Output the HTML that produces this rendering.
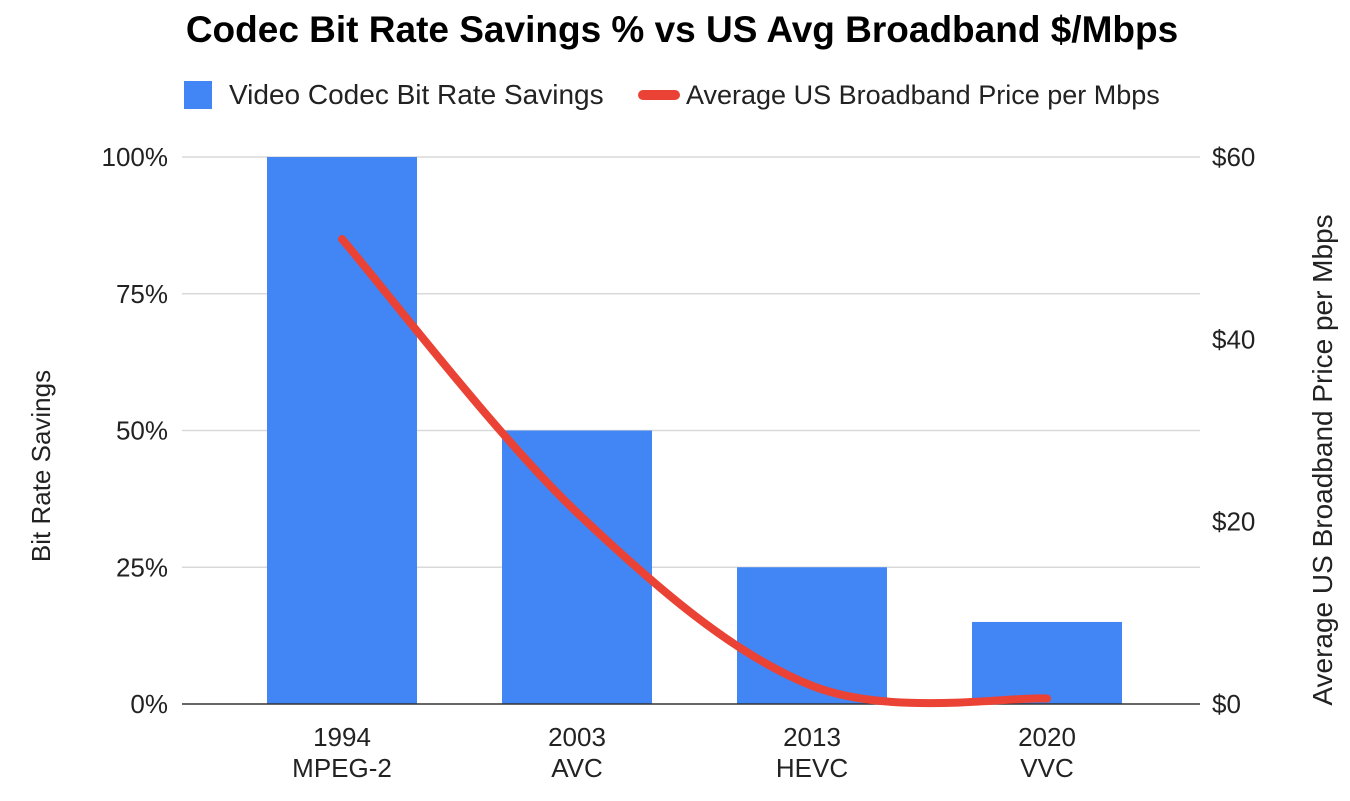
<!DOCTYPE html>
<html><head><meta charset="utf-8"><style>
body{margin:0;background:#fff;font-family:"Liberation Sans",Arial,sans-serif}
</style></head><body>
<svg id="chart" width="1350" height="796" font-family="Liberation Sans, Arial, sans-serif">
<text x="682" y="42" text-anchor="middle" font-size="37" font-weight="bold" fill="#000">Codec Bit Rate Savings % vs US Avg Broadband $/Mbps</text>
<g>
<rect x="184" y="81" width="28" height="28" fill="#4285f4"/>
<text x="229" y="104" font-size="28" fill="#222">Video Codec Bit Rate Savings</text>
<rect x="638" y="90" width="42" height="10" rx="5" fill="#ea4335"/>
<text x="686" y="104" font-size="27" fill="#222">Average US Broadband Price per Mbps</text>
</g>
<g id="grid"></g><g id="bars"></g><g id="axes"></g><g id="line"></g>
<text transform="translate(50,466) rotate(-90)" text-anchor="middle" font-size="26" fill="#222">Bit Rate Savings</text>
<text transform="translate(1332,460) rotate(-90)" text-anchor="middle" font-size="28" fill="#222">Average US Broadband Price per Mbps</text>
</svg>
<script>
const categories=["1994","2003","2013","2020"];
const codecs=["MPEG-2","AVC","HEVC","VVC"];
const savings=[100,50,25,15];
const prices=[51,21,2,0.6];
const leftTicks=[0,25,50,75,100];
const rightTicks=[0,20,40,60];
const NS="http://www.w3.org/2000/svg";
const x0=182,x1=1200,yTop=157,yBot=704;
const firstCenter=342,band=235;
const xc=i=>firstCenter+band*i;
const yL=v=>yBot-(v/100)*(yBot-yTop);
const yR=v=>yBot-(v/60)*(yBot-yTop);
function mk(t,a,p){const e=document.createElementNS(NS,t);for(const k in a)e.setAttribute(k,a[k]);p.appendChild(e);return e;}
const grid=document.getElementById('grid'),bars=document.getElementById('bars'),axes=document.getElementById('axes'),line=document.getElementById('line');
leftTicks.forEach(v=>{
 if(v>0){const g=mk('line',{x1:x0,x2:x1,y1:yL(v),y2:yL(v),stroke:'#d9d9d9','stroke-width':1.5},grid);
 
 }
 const t=mk('text',{x:168,y:yL(v)+9,'text-anchor':'end','font-size':26,fill:'#222'},axes);t.textContent=v+'%';
 
 
});
rightTicks.forEach(v=>{
 const t=mk('text',{x:1212,y:yR(v)+9,'font-size':26,fill:'#222'},axes);t.textContent='$'+v;
 
 
});
savings.forEach((v,i)=>{
 const r=mk('rect',{x:xc(i)-75,y:yL(v),width:150,height:yBot-yL(v),fill:'#4285f4'},bars);
 
 
 const t=mk('text',{x:xc(i),y:746,'text-anchor':'middle','font-size':26,fill:'#222'},axes);t.textContent=categories[i];
 
 
 const t2=mk('text',{x:xc(i),y:777,'text-anchor':'middle','font-size':26,fill:'#222'},axes);t2.textContent=codecs[i];
 
 
});
const base=mk('line',{x1:x0,x2:x1,y1:yBot,y2:yBot,stroke:'#333','stroke-width':1.5},axes);


const pts=prices.map((v,i)=>[xc(i),yR(v)]);
let d='M'+pts[0][0]+','+pts[0][1];
for(let i=0;i<pts.length-1;i++){
 const p0=pts[Math.max(0,i-1)],p1=pts[i],p2=pts[i+1],p3=pts[Math.min(pts.length-1,i+2)];
 const c1=[p1[0]+(p2[0]-p0[0])/6,p1[1]+(p2[1]-p0[1])/6],c2=[p2[0]-(p3[0]-p1[0])/6,p2[1]-(p3[1]-p1[1])/6];
 d+=' C'+c1+' '+c2+' '+p2;
}
const pl=mk('path',{d:d,fill:'none',stroke:'#ea4335','stroke-width':8,'stroke-linecap':'round'},line);


</script>
</body></html>
